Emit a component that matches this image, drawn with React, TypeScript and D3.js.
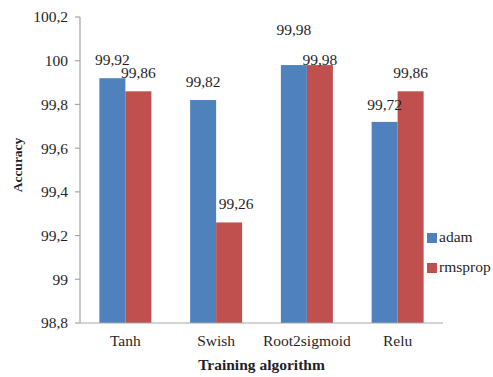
import React from "react";
import * as d3 from "d3";

const categories = ["Tanh", "Swish", "Root2sigmoid", "Relu"];
const seriesNames = ["adam", "rmsprop"];
const adam = [99.92, 99.82, 99.98, 99.72];
const rmsprop = [99.86, 99.26, 99.98, 99.86];
const yTicks = [98.8, 99, 99.2, 99.4, 99.6, 99.8, 100, 100.2];
const colors = ["#4F81BD", "#C0504D"];

// label nudges [dx, dy] relative to bar center / bar top (layout only)
const labelNudge: [number, number][][] = [
  [[0, -13], [0, -13]],
  [[0, -13], [7, -13.5]],
  [[0, -30], [0, 0]],
  [[0, -12], [0, -13]],
];

const W = 493;
const H = 377;
const left = 80;
const right = 443;
const top = 17;
const bottom = 323;
const font = '"Liberation Serif", "DejaVu Serif", "Times New Roman", Times, serif';
const textColor = "#1f1f2a";

const fmt = (v: number) => String(+v.toFixed(2)).replace(".", ",");

export default function App() {
  const x = d3
    .scaleBand<string>()
    .domain(categories)
    .range([left, right])
    .paddingInner(0.427)
    .paddingOuter(0.2135);
  const xs = d3
    .scaleBand<string>()
    .domain(seriesNames)
    .range([0, x.bandwidth()]);
  const y = d3.scaleLinear().domain([98.8, 100.2]).range([bottom, top]);
  const series = [adam, rmsprop];
  const ts = { fontFamily: font, fill: textColor } as React.CSSProperties;

  return (
    <svg
      width={W}
      height={H}
      style={{ position: "absolute", left: 0, top: 0, background: "#fff", fontFamily: font }}
    >
      {categories.map((c, i) =>
        series.map((s, j) => {
          const bx = (x(c) as number) + (xs(seriesNames[j]) as number);
          const by = y(s[i]);
          return (
            <rect
              key={c + j}
              x={bx}
              y={by}
              width={xs.bandwidth()}
              height={bottom - by}
              fill={colors[j]}
            />
          );
        })
      )}
      <line x1={left} x2={left} y1={top} y2={bottom} stroke="#a6a6a6" strokeWidth={1.2} />
      <line x1={left} x2={right} y1={bottom} y2={bottom} stroke="#a6a6a6" strokeWidth={1.2} />
      {yTicks.map((t) => (
        <g key={t}>
          <line x1={left - 5} x2={left} y1={y(t)} y2={y(t)} stroke="#a6a6a6" strokeWidth={1.2} />
          <text
            x={left - 12}
            y={y(t)}
            dy="0.35em"
            textAnchor="end"
            fontSize={15.5}
            style={ts}
          >
            {fmt(t)}
          </text>
        </g>
      ))}
      {categories.map((c) => (
        <text
          key={c}
          x={(x(c) as number) + x.bandwidth() / 2}
          y={346}
          textAnchor="middle"
          fontSize={15.5}
          style={ts}
        >
          {c}
        </text>
      ))}
      {categories.map((c, i) =>
        series.map((s, j) => {
          const cx = (x(c) as number) + (xs(seriesNames[j]) as number) + xs.bandwidth() / 2;
          const [dx, dy] = labelNudge[i][j];
          return (
            <text
              key={"l" + c + j}
              x={cx + dx}
              y={y(s[i]) + dy}
              textAnchor="middle"
              fontSize={15.5}
              style={ts}
            >
              {fmt(s[i])}
            </text>
          );
        })
      )}
      <text
        x={(left + right) / 2}
        y={370}
        textAnchor="middle"
        fontSize={15.5}
        fontWeight="bold"
        style={ts}
      >
        Training algorithm
      </text>
      <text
        transform={`translate(22,165) rotate(-90)`}
        textAnchor="middle"
        fontSize={13.5}
        fontWeight="bold"
        style={ts}
      >
        Accuracy
      </text>
      {seriesNames.map((n, j) => (
        <g key={n} transform={`translate(427, ${233 + j * 30})`}>
          <rect x={0} y={0} width={10} height={10} fill={colors[j]} />
          <text x={12} y={9} fontSize={15.5} style={ts}>
            {n}
          </text>
        </g>
      ))}
    </svg>
  );
}
